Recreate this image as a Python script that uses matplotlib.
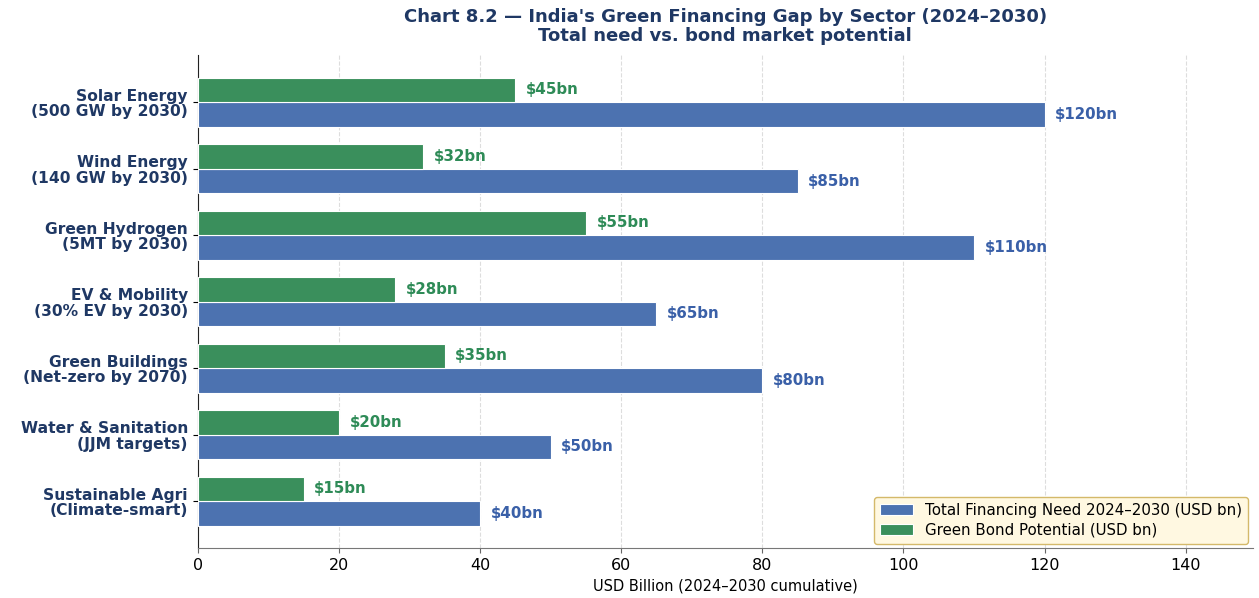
import matplotlib
matplotlib.use("Agg")
import matplotlib.pyplot as plt
import numpy as np

sectors = [
    "Solar Energy\n(500 GW by 2030)",
    "Wind Energy\n(140 GW by 2030)",
    "Green Hydrogen\n(5MT by 2030)",
    "EV & Mobility\n(30% EV by 2030)",
    "Green Buildings\n(Net-zero by 2070)",
    "Water & Sanitation\n(JJM targets)",
    "Sustainable Agri\n(Climate-smart)",
]
total_need = [120, 85, 110, 65, 80, 50, 40]
bond_potential = [45, 32, 55, 28, 35, 20, 15]

blue = "#4C72B0"
green = "#3A8F5C"
navy = "#1F3864"

fig, ax = plt.subplots(figsize=(12.59, 5.98), dpi=100)
fig.subplots_adjust(left=0.157, right=0.995, top=0.908, bottom=0.083)

y = np.arange(len(sectors))
h = 0.37
ax.barh(y + h / 2, total_need, height=h, color=blue, edgecolor="white", linewidth=0.8,
        label="Total Financing Need 2024\u20132030 (USD bn)", zorder=3)
ax.barh(y - h / 2, bond_potential, height=h, color=green, edgecolor="white", linewidth=0.8,
        label="Green Bond Potential (USD bn)", zorder=3)

for yi, v in zip(y, total_need):
    ax.text(v + 1.5, yi + h / 2, f"${v}bn", va="center", ha="left", fontsize=10.8,
            fontweight="bold", color="#3A60A8")
for yi, v in zip(y, bond_potential):
    ax.text(v + 1.5, yi - h / 2, f"${v}bn", va="center", ha="left", fontsize=10.8,
            fontweight="bold", color="#2E8B57")

ax.set_yticks(y)
ax.set_yticklabels(sectors, fontsize=11.2, fontweight="bold", color=navy, linespacing=1.05)
ax.set_ylim(len(sectors) - 0.29, -0.71)
ax.set_xlim(0, 149.5)
ax.set_xticks(np.arange(0, 141, 20))
ax.tick_params(axis="x", labelsize=11.5, color="#666666")
ax.set_xlabel("USD Billion (2024\u20132030 cumulative)", fontsize=10.5, labelpad=4)

ax.grid(axis="x", linestyle="--", color="#DDDDDD", linewidth=0.8, zorder=0)
for s in ["top", "right"]:
    ax.spines[s].set_visible(False)
ax.spines["bottom"].set_color("#777777")
ax.spines["left"].set_color("#222222")

ax.set_title("Chart 8.2 \u2014 India's Green Financing Gap by Sector (2024\u20132030)\nTotal need vs. bond market potential",
             fontsize=13, fontweight="bold", color=navy, pad=10, linespacing=1.05)

leg = ax.legend(loc="lower right", fontsize=10.8, frameon=True, facecolor="#FFF8E1", edgecolor="#D4B96A",
                framealpha=1, borderaxespad=0.3, handlelength=2.2, labelspacing=0.35)

fig.savefig("out.png", dpi=100)
